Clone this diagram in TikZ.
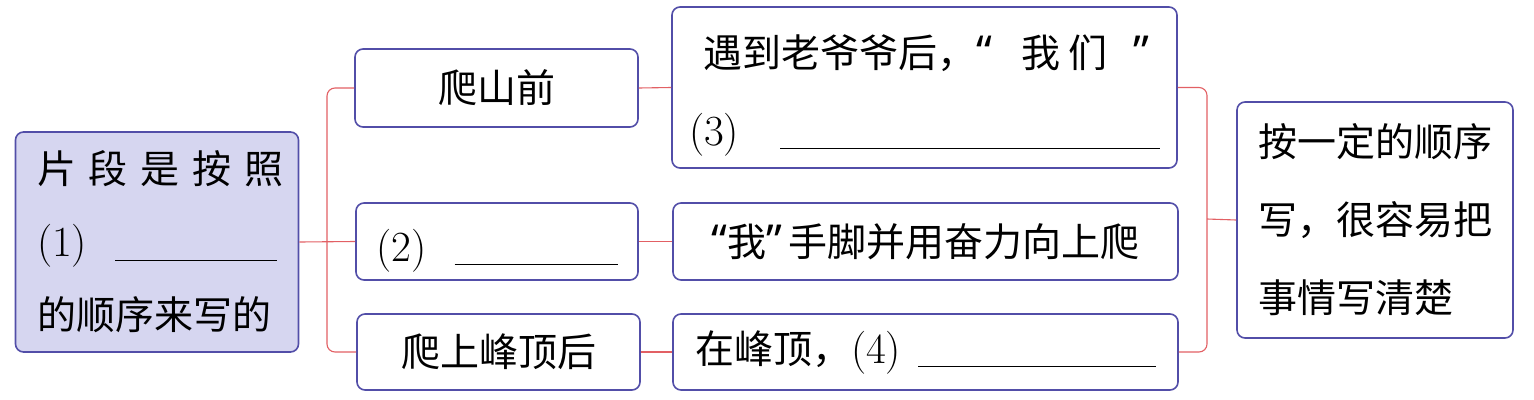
\documentclass[tikz,border=0pt]{standalone}
\usepackage{fontspec}
\newfontfamily\cjk{Noto Sans CJK SC}
\newfontfamily\quotefont{Noto Sans}
\usetikzlibrary{positioning}
\definecolor{boxline}{RGB}{82,78,168}
\definecolor{boxfill}{RGB}{214,214,240}
\definecolor{linkcol}{RGB}{226,96,100}
\newcommand{\qnum}[1]{{\rmfamily\fontsize{43}{43}\selectfont(#1)}}
\newcommand{\answerline}[1]{\rule[-4pt]{#1}{1.2pt}}
\newcommand{\qopen}{{\quotefont\fontsize{44}{44}\selectfont “}}
\newcommand{\qclose}{{\quotefont\fontsize{44}{44}\selectfont ”}}
\tikzset{
  card/.style={rounded corners=8pt,draw=boxline,line width=1.6pt,fill=white,
               inner sep=0pt,font=\cjk\fontsize{39}{73}\selectfont},
  topic/.style={card,fill=boxfill},
  widecard/.style={card,font=\cjk\fontsize{39}{78}\selectfont},
  link/.style={draw=linkcol,line width=1.1pt,rounded corners=8pt},
}
\begin{document}
\begin{tikzpicture}[x=1pt,y=-1pt]
  \useasboundingbox (0,0) rectangle (1534,399);
  \node[topic,minimum width=283pt,minimum height=220pt,text width=240pt,align=left]
    (src) at (157,242) {\makebox[236pt][s]{片 段 是 按 照}\\
    \qnum{1}\hfill\answerline{162pt}\\ 的顺序来写的};
  \node[card,minimum width=283pt,minimum height=78pt] (b1) at (496.5,88) {爬山前};
  \node[card,minimum width=282pt,minimum height=77pt]
    (b2) at (497,241.5) {\raisebox{-9pt}[\height][\depth]{%
    \makebox[241pt]{\qnum{2}\hfill\answerline{163pt}}}};
  \node[card,minimum width=283pt,minimum height=76pt] (b3) at (498.5,352) {爬上峰顶后};
  \node[widecard,minimum width=505pt,minimum height=161pt,text width=471pt,align=left]
    (bA) at (924.5,87.5) {\rule{0pt}{48pt}\hspace*{14pt}%
    遇到老爷爷后，\qopen\hspace{30pt}我\hspace{8pt}们\hspace{26pt}\qclose\\
    \qnum{3}\hfill\answerline{380pt}};
  \node[card,minimum width=505pt,minimum height=77pt] (bB) at (925.5,241.5)
    {\qopen 我\qclose\,手脚并用奋力向上爬};
  \node[card,minimum width=505pt,minimum height=76pt,text width=461pt,align=left]
    (bC) at (925.5,352) {在峰顶，\qnum{4}\hfill\answerline{238pt}};
  \node[widecard,minimum width=276pt,minimum height=236pt,text width=234pt,align=left]
    (res) at (1375,220) {按一定的顺序\\ 写，很容易把\\ 事情写清楚};
  % branches
  \coordinate (lj) at (327,241);
  \coordinate (rj) at (1207,219);
  \draw[link] (src.east) -- (b2.west);
  \draw[link] (b1.west) -| (lj) |- (b3.west);
  \draw[link] (b1.east) -- (bA.west);
  \draw[link] (b2.east) -- (bB.west);
  \draw[link] (b3.east) -- (bC.west);
  \draw[link] (bA.east) -| (rj) |- (bC.east);
  \draw[link] (rj) -- (res.west);
\end{tikzpicture}
\end{document}
